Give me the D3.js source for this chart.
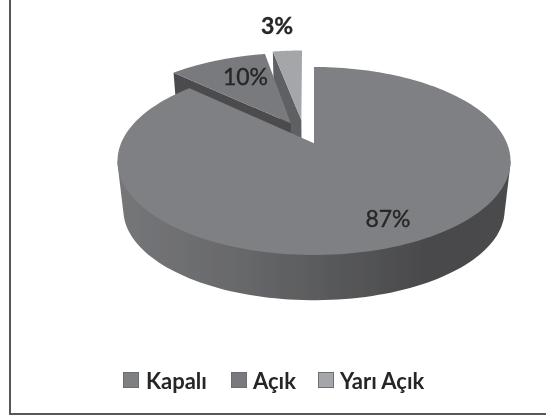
<!DOCTYPE html>
<html><head><meta charset="utf-8">
<script src="https://cdnjs.cloudflare.com/ajax/libs/d3/7.8.5/d3.min.js"></script>
<style>html,body{margin:0;padding:0;background:#fff}svg{display:block}</style>
</head><body><svg id="c" width="546" height="417"></svg>
<script>
const categories = ["Kapalı", "Açık", "Yarı Açık"];
const values = [87, 10, 3];
const labels = ["87%", "10%", "3%"];
const topColors = ["#7f8083", "#797a7d", "#a5a6a9"];
const faceColors = ["#55565a", "#4b4c4e", "#5f6063"];

const W = 546, H = 417;
const cx = 314, cy = 161, rx = 196.5, ry = 94, k = 0.19;
const svg = d3.select("#c");

const defs = svg.append("defs");
const grad = defs.append("linearGradient").attr("id", "side").attr("gradientUnits", "userSpaceOnUse")
  .attr("x1", cx - rx).attr("x2", cx + rx).attr("y1", 0).attr("y2", 0);
[[0, "#757679"], [0.3, "#68696b"], [0.62, "#535456"], [0.8, "#48494b"], [1, "#4a4b4d"]]
  .forEach(([o, c]) => grad.append("stop").attr("offset", o).attr("stop-color", c));
defs.append("filter").attr("id", "soft").append("feGaussianBlur").attr("stdDeviation", 0.45);

const root = svg.append("g").attr("filter", "url(#soft)");
root.append("path").attr("d", "M10,0V414H546").attr("fill", "none")
  .attr("stroke", "#58595b").attr("stroke-width", 2);

const sx = d3.scaleLinear().domain([-1, 1]).range([cx - rx, cx + rx]);
const sy = d3.scaleLinear().domain([-1, 1]).range([cy + ry, cy - ry]);
function project(u, v) {
  const d = 1 + k * v;
  return [sx(u * Math.sqrt(1 - k * k) / d), sy((v + k) / d)];
}
const pie = d3.pie().sort(null).value(d => d);
const arcs = pie(values);
const explode = [0, 0.26, 0.27];
const shiftX = [0, 0, -8];

function slice(i) {
  const a = arcs[i], mid = (a.startAngle + a.endAngle) / 2, e = explode[i];
  const ou = e * Math.sin(mid), ov = e * Math.cos(mid);
  const pt = (u, v) => { const p = project(u + ou, v + ov); return [p[0] + shiftX[i], p[1]]; };
  const rim = d3.range(0, 181).map(j => {
    const t = a.startAngle + (a.endAngle - a.startAngle) * j / 180;
    return pt(Math.sin(t), Math.cos(t));
  });
  return { apex: pt(0, 0), rim };
}
const line = d3.line();
const down = p => [cx + (p[0] - cx) * 0.97, cy + (p[1] - cy) * 0.96 + 49];
const g = root.append("g");

[2, 1].forEach(i => {
  const s = slice(i), first = s.rim[0];
  g.append("path").attr("d", line([first, s.apex, down(s.apex), down(first)]) + "Z").attr("fill", faceColors[i]);
  g.append("path").attr("d", line([s.apex, ...s.rim]) + "Z").attr("fill", topColors[i]);
});

const m = slice(0);
// the wall is the hull of the front half of the rim and its lower copy; the top covers the rest
const frontRim = m.rim.filter(p => p[1] >= cy - 2);
g.append("path").attr("d", line(d3.polygonHull([...frontRim, ...frontRim.map(down)])) + "Z")
  .attr("fill", "url(#side)");
g.append("path").attr("d", line([m.apex, ...m.rim]) + "Z").attr("fill", topColors[0]);

const labelPos = [[388, 218], [245.5, 76], [277, 25]];
root.selectAll("text.lab").data(labels).join("text").attr("class", "lab")
  .attr("x", (d, i) => labelPos[i][0]).attr("y", (d, i) => labelPos[i][1])
  .attr("text-anchor", "middle").attr("dominant-baseline", "central")
  .attr("font-family", "Lato, 'Open Sans', sans-serif").attr("font-size", 23)
  .attr("font-weight", (d, i) => i === 2 ? 700 : 400)
  .attr("stroke", "#262626").attr("stroke-width", 0.35)
  .attr("fill", "#262626").text(d => d);

const legendX = [123, 231, 318], legendText = [146, 253, 340];
categories.forEach((c, i) => {
  root.append("rect").attr("x", legendX[i] + 0.5).attr("y", 372.5).attr("width", 15).attr("height", 15)
    .attr("fill", topColors[i]).attr("stroke", "#6d6e70").attr("stroke-width", 1);
  root.append("text").attr("x", legendText[i]).attr("y", 380).attr("dominant-baseline", "central")
    .attr("font-family", "Lato, 'Open Sans', sans-serif").attr("font-size", 22).attr("font-weight", 700)
    .attr("fill", "#262626").text(c);
});
</script></body></html>
